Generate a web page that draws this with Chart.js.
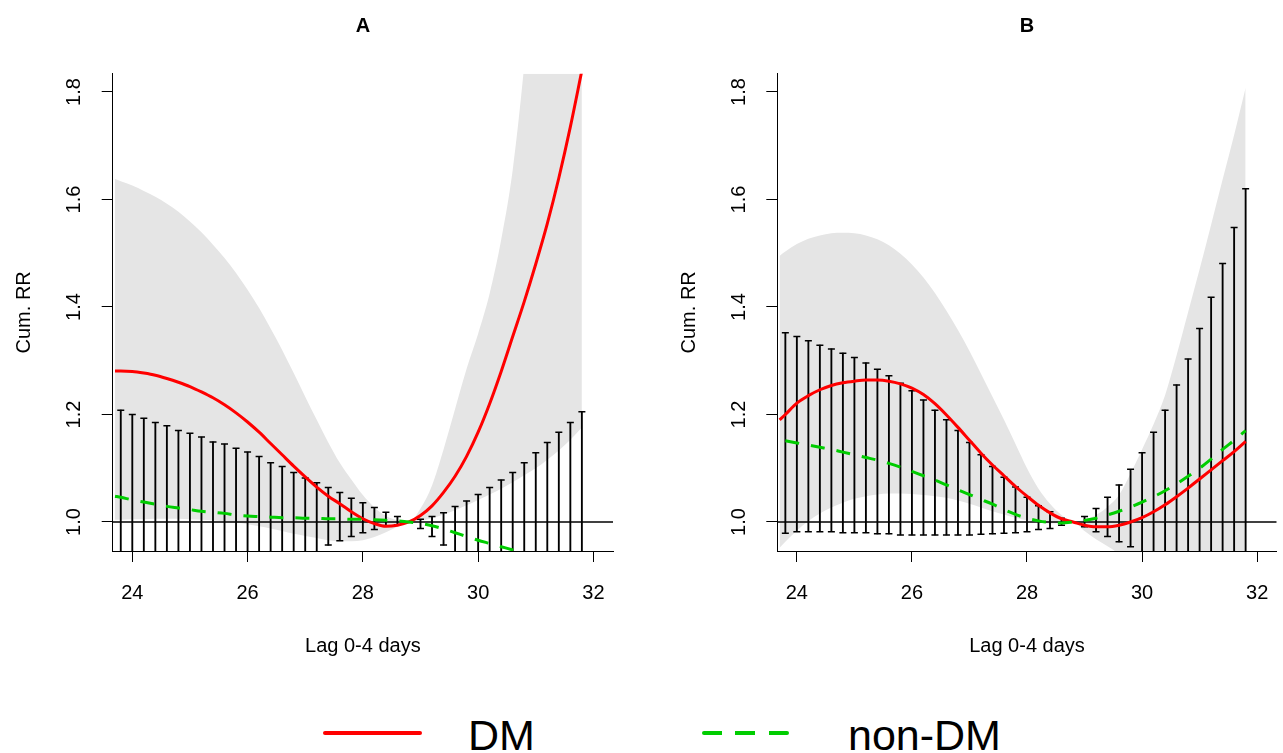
<!DOCTYPE html>
<html>
<head>
<meta charset="utf-8">
<script src="https://cdn.jsdelivr.net/npm/chart.js@4.4.1/dist/chart.umd.min.js"></script>
<style>
  body { margin: 0; background: #fff; width: 1283px; height: 753px; overflow: hidden; position: relative;
         font-family: "Liberation Sans", Arial, sans-serif; }
  .panel { position: absolute; top: 0; height: 680px; }
  #boxA { left: 0; width: 641px; }
  #boxB { left: 641px; width: 642px; }
  .key { position: absolute; top: 731px; height: 4px; }
  #keyDM { left: 323px; width: 99px; background: #ff0000; border-radius: 2px; }
  #keyNon { left: 702px; width: 87px;
            background: repeating-linear-gradient(to right, #00cd00 0 20px, transparent 20px 33.3px); border-radius: 2px; }
  .keytxt { position: absolute; font-size: 43px; line-height: 43px; top: 714px; color: #000; }
</style>
</head>
<body>
<div class="panel" id="boxA"><canvas id="chartA"></canvas></div>
<div class="panel" id="boxB"><canvas id="chartB"></canvas></div>
<div class="key" id="keyDM"></div><span class="keytxt" style="left:468px">DM</span>
<div class="key" id="keyNon"></div><span class="keytxt" style="left:848px">non-DM</span>

<script>
// temperature grid (lines + band), error bars use the same points without 23.7
const xs = [23.7, 23.8, 24.0, 24.2, 24.4, 24.6, 24.8, 25.0, 25.2, 25.4,
            25.6, 25.8, 26.0, 26.2, 26.4, 26.6, 26.8, 27.0, 27.2, 27.4,
            27.6, 27.8, 28.0, 28.2, 28.4, 28.6, 28.8, 29.0, 29.2, 29.4,
            29.6, 29.8, 30.0, 30.2, 30.4, 30.6, 30.8, 31.0, 31.2, 31.4,
            31.6, 31.8];
const barX = xs.slice(1);

const xTicks = [24, 26, 28, 30, 32];
const yTicks = [1.0, 1.2, 1.4, 1.6, 1.8];
const xTitle = "Lag 0-4 days";
const yTitle = "Cum. RR";
const seriesNames = ["DM", "non-DM"];

// panel A
const dmA = [1.281, 1.281, 1.280, 1.277, 1.273, 1.267, 1.260, 1.252, 1.242, 1.231,
             1.218, 1.203, 1.186, 1.167, 1.146, 1.125, 1.104, 1.084, 1.065, 1.048,
             1.034, 1.019, 1.006, 0.997, 0.992, 0.994, 1.000, 1.012, 1.030, 1.055,
             1.085, 1.122, 1.167, 1.220, 1.280, 1.345, 1.410, 1.480, 1.555, 1.640,
             1.735, 1.840];
const dmAHigh = [1.638, 1.634, 1.626, 1.616, 1.605, 1.592, 1.577, 1.559, 1.539, 1.516,
                 1.491, 1.463, 1.432, 1.398, 1.360, 1.320, 1.277, 1.233, 1.190, 1.148,
                 1.110, 1.079, 1.050, 1.027, 1.011, 1.003, 1.000, 1.025, 1.068, 1.135,
                 1.210, 1.285, 1.350, 1.425, 1.525, 1.655, 1.850, 2.100, 2.300, 2.500,
                 2.700, 2.900];
const dmALow = [1.004, 1.004, 1.005, 1.005, 1.006, 1.006, 1.006, 1.005, 1.004, 1.003,
                1.001, 0.999, 0.996, 0.992, 0.988, 0.983, 0.978, 0.974, 0.970, 0.966,
                0.964, 0.964, 0.966, 0.972, 0.981, 0.991, 1.000, 1.002, 1.007, 1.014,
                1.022, 1.031, 1.041, 1.051, 1.062, 1.074, 1.087, 1.100, 1.116, 1.133,
                1.153, 1.176];
const nonA = [1.048, 1.046, 1.041, 1.037, 1.033, 1.029, 1.026, 1.023, 1.020, 1.018,
              1.016, 1.013, 1.011, 1.010, 1.009, 1.008, 1.008, 1.007, 1.007, 1.006,
              1.006, 1.005, 1.005, 1.004, 1.003, 1.002, 1.000, 0.997, 0.993, 0.987,
              0.980, 0.973, 0.966, 0.960, 0.954, 0.948, 0.942, 0.936, 0.929, 0.922,
              0.915, 0.908];
const nonAHigh = [1.208, 1.200, 1.193, 1.185, 1.179, 1.170, 1.165, 1.158, 1.149, 1.145,
                  1.137, 1.130, 1.122, 1.110, 1.103, 1.092, 1.082, 1.073, 1.064, 1.055,
                  1.044, 1.036, 1.027, 1.018, 1.010, null, 1.005, 1.010, 1.017, 1.029,
                  1.039, 1.051, 1.064, 1.078, 1.092, 1.110, 1.129, 1.148, 1.167, 1.185,
                  1.205];
const nonALow = [0.906, 0.903, 0.901, 0.900, 0.899, 0.899, 0.898, 0.898, 0.899, 0.900,
                 0.901, 0.902, 0.904, 0.908, 0.912, 0.920, 0.930, 0.942, 0.957, 0.965,
                 0.973, 0.980, 0.986, 0.992, 0.995, null, 0.988, 0.973, 0.957, 0.933,
                 0.912, 0.890, 0.870, 0.850, 0.830, 0.805, 0.780, 0.755, 0.730, 0.705,
                 0.680];

// panel B
const dmB = [1.190, 1.200, 1.221, 1.235, 1.246, 1.254, 1.259, 1.262, 1.264, 1.264,
             1.262, 1.257, 1.249, 1.237, 1.220, 1.199, 1.176, 1.152, 1.128, 1.106,
             1.086, 1.066, 1.048, 1.031, 1.017, 1.006, 1.000, 0.994, 0.991, 0.991,
             0.994, 1.000, 1.008, 1.019, 1.032, 1.047, 1.063, 1.080, 1.097, 1.114,
             1.131, 1.150];
const dmBHigh = [1.495, 1.503, 1.517, 1.527, 1.533, 1.537, 1.538, 1.537, 1.533, 1.526,
                 1.515, 1.499, 1.479, 1.455, 1.426, 1.393, 1.357, 1.318, 1.276, 1.233,
                 1.190, 1.145, 1.100, 1.062, 1.034, 1.013, 1.000, 1.004, 1.013, 1.028,
                 1.050, 1.090, 1.135, 1.182, 1.236, 1.310, 1.390, 1.470, 1.553, 1.637,
                 1.720, 1.808];
const dmBLow = [0.952, 0.963, 0.984, 1.002, 1.016, 1.027, 1.036, 1.043, 1.048, 1.051,
                1.053, 1.053, 1.052, 1.050, 1.048, 1.045, 1.040, 1.034, 1.027, 1.020,
                1.014, 1.008, 1.003, 0.999, 0.997, 0.998, 1.000, 0.983, 0.968, 0.955,
                0.940, 0.918, 0.896, 0.878, 0.860, 0.840, 0.820, 0.800, 0.780, 0.760,
                0.745, 0.730];
const nonB = [null, 1.151, 1.147, 1.143, 1.139, 1.135, 1.130, 1.125, 1.120, 1.115,
              1.109, 1.102, 1.094, 1.086, 1.078, 1.069, 1.060, 1.051, 1.042, 1.033,
              1.023, 1.014, 1.007, 1.002, 0.999, 0.998, 1.000, 1.003, 1.007, 1.013,
              1.020, 1.028, 1.037, 1.047, 1.058, 1.071, 1.085, 1.100, 1.117, 1.135,
              1.152, 1.170];
const nonBHigh = [1.352, 1.345, 1.337, 1.329, 1.322, 1.314, 1.306, 1.296, 1.284, 1.272,
                  1.258, 1.244, 1.227, 1.208, 1.190, 1.170, 1.148, 1.125, 1.103, 1.083,
                  1.065, 1.046, 1.030, 1.019, 1.007, null, 1.010, 1.025, 1.046, 1.069,
                  1.098, 1.129, 1.167, 1.208, 1.255, 1.303, 1.360, 1.418, 1.481, 1.548,
                  1.620];
const nonBLow = [0.979, 0.982, 0.982, 0.982, 0.982, 0.980, 0.980, 0.980, 0.978, 0.978,
                 0.976, 0.976, 0.976, 0.976, 0.976, 0.976, 0.976, 0.977, 0.978, 0.979,
                 0.980, 0.982, 0.986, 0.988, 0.994, null, 0.991, 0.982, 0.973, 0.963,
                 0.954, 0.942, 0.930, 0.920, 0.905, 0.890, 0.880, 0.870, 0.860, 0.850,
                 0.840];

const xMin = 23.66, xMax = 32.34;
const yMin = 0.946, yMax = 1.834;
const refLine = 1;

const FONT = '"Liberation Sans", Arial, sans-serif';

function pts(values) {
  return xs.map((x, i) => ({ x: x, y: values[i] }));
}

function panelText(letter) {
  return {
    id: 'panelText' + letter,
    afterDraw(chart) {
      const { ctx, chartArea: a, scales } = chart;
      const midX = (a.left + a.right) / 2;
      ctx.save();
      ctx.fillStyle = '#000';
      ctx.textAlign = 'center';
      ctx.textBaseline = 'middle';
      ctx.font = 'bold 20px ' + FONT;
      ctx.fillText(letter, midX, 26);
      ctx.font = '20px ' + FONT;
      xTicks.forEach(v => ctx.fillText(String(v), scales.x.getPixelForValue(v), 593));
      ctx.fillText(xTitle, midX, 646);
      yTicks.forEach(v => {
        ctx.save();
        ctx.translate(a.left - 38, scales.y.getPixelForValue(v));
        ctx.rotate(-Math.PI / 2);
        ctx.fillText(v.toFixed(1), 0, 0);
        ctx.restore();
      });
      ctx.translate(a.left - 88, (a.top + a.bottom) / 2);
      ctx.rotate(-Math.PI / 2);
      ctx.fillText(yTitle, 0, 0);
      ctx.restore();
    }
  };
}

function makeChart(id, letter, dm, dmHigh, dmLow, non, nonHigh, nonLow, yWidth, padRight) {
  const bars = barX.map((x, i) => ({ x: x, y: [nonLow[i], nonHigh[i]] })).filter(p => p.y[0] !== null);
  const upCaps = barX.map((x, i) => ({ x: x, y: nonHigh[i] })).filter(p => p.y !== null);
  const lowCaps = barX.map((x, i) => ({ x: x, y: nonLow[i] })).filter(p => p.y !== null);

  const axis = (ticks, min, max) => ({
    type: 'linear', min: min, max: max, offset: false,
    afterBuildTicks: s => { s.ticks = ticks.map(v => ({ value: v })); },
    ticks: { display: false },
    grid: { display: true, drawOnChartArea: false, drawTicks: true, tickLength: 11,
            color: '#000', lineWidth: 1, offset: false },
    border: { display: true, color: '#000', width: 1 }
  });

  new Chart(document.getElementById(id), {
    type: 'line',
    data: {
      datasets: [
        { label: seriesNames[1], data: pts(non), borderColor: '#00cd00', borderWidth: 3,
          borderDash: [14, 12], pointRadius: 0, cubicInterpolationMode: 'monotone', clip: 0 },
        { label: seriesNames[0], data: pts(dm), borderColor: '#ff0000', borderWidth: 3,
          pointRadius: 0, cubicInterpolationMode: 'monotone', clip: 0 },
        { label: 'ref', data: [{ x: xMin, y: refLine }, { x: xMax, y: refLine }],
          borderColor: '#000', borderWidth: 1.3, pointRadius: 0, clip: 0 },
        { type: 'scatter', label: 'upper', data: upCaps, pointStyle: 'line', pointRadius: 3.5,
          borderColor: '#000', pointBorderWidth: 1.5, showLine: false, clip: 0 },
        { type: 'scatter', label: 'lower', data: lowCaps, pointStyle: 'line', pointRadius: 3.5,
          borderColor: '#000', pointBorderWidth: 1.5, showLine: false, clip: 0 },
        { type: 'bar', label: 'ci', data: bars, backgroundColor: '#000', barThickness: 1.2,
          grouped: false, clip: 0 },
        { label: 'dmHigh', data: pts(dmHigh), borderWidth: 0, borderColor: 'rgba(0,0,0,0)',
          backgroundColor: '#e5e5e5', pointRadius: 0, fill: '+1',
          cubicInterpolationMode: 'monotone', clip: 0 },
        { label: 'dmLow', data: pts(dmLow), borderWidth: 0, borderColor: 'rgba(0,0,0,0)',
          pointRadius: 0, fill: false, cubicInterpolationMode: 'monotone', clip: 0 }
      ]
    },
    options: {
      responsive: true,
      maintainAspectRatio: false,
      animation: false,
      events: [],
      layout: { padding: { left: 0, right: padRight, top: 73.7, bottom: 0 } },
      plugins: { legend: { display: false }, tooltip: { enabled: false }, title: { display: false } },
      scales: {
        x: Object.assign(axis(xTicks, xMin, xMax), { afterFit: s => { s.height = 129; } }),
        y: Object.assign(axis(yTicks, yMin, yMax), { beginAtZero: false, afterFit: s => { s.width = yWidth; } })
      }
    },
    plugins: [panelText(letter)]
  });
}

makeChart('chartA', 'A', dmA, dmAHigh, dmALow, nonA, nonAHigh, nonALow, 112.7, 28);
makeChart('chartB', 'B', dmB, dmBHigh, dmBLow, nonB, nonBHigh, nonBLow, 136.3, 6.3);
</script>
</body>
</html>
